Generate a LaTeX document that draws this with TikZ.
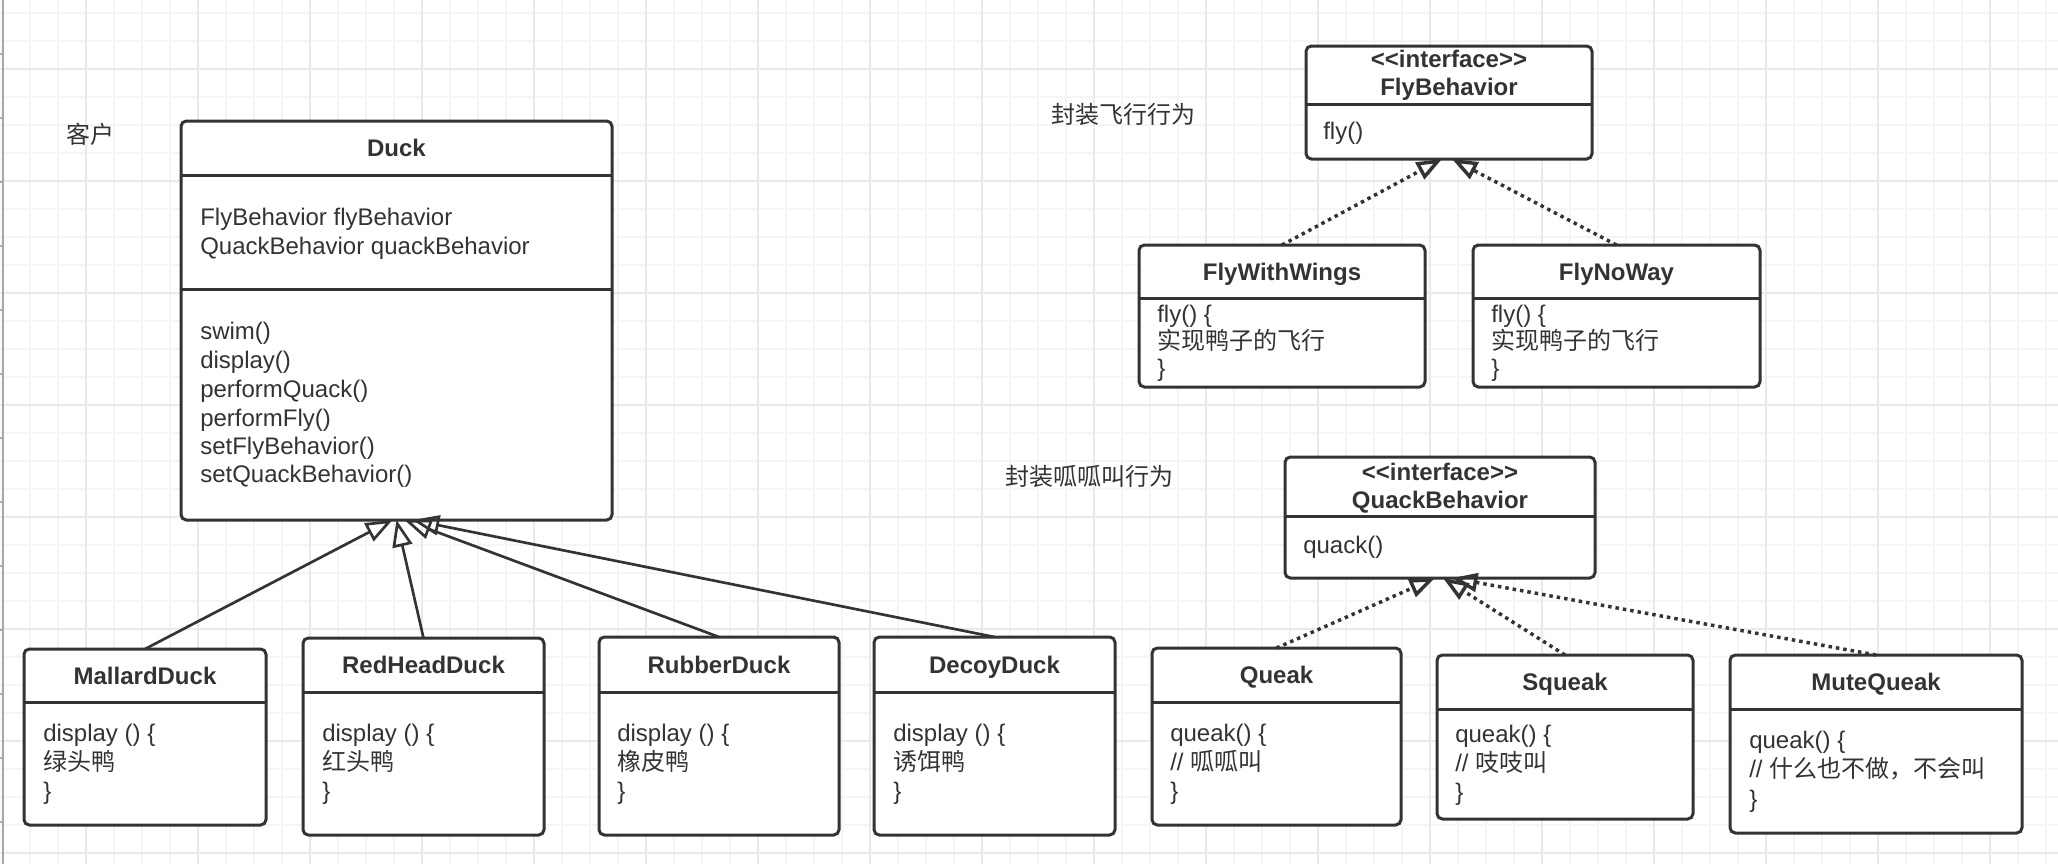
\documentclass[tikz,border=0pt]{standalone}
\usepackage{fontspec}
\setmainfont{Liberation Sans}
\newfontfamily\cjk{Noto Sans CJK SC}
\usetikzlibrary{arrows.meta,calc}
\definecolor{fg}{HTML}{333333}
\definecolor{gridminor}{HTML}{F5F5F5}
\definecolor{gridmajor}{HTML}{EAEAEA}
\definecolor{rulercol}{HTML}{A8A8A8}
\tikzset{
  box/.style={draw=fg, fill=white, line width=2.25pt, rounded corners=4pt, anchor=north west, inner sep=0pt, outer sep=0pt},
  divline/.style={draw=fg, line width=2.25pt},
  title/.style={font=\fontsize{18pt}{21.6pt}\selectfont\bfseries, text=fg, inner sep=0pt, text height=13pt, text depth=4pt},
  body/.style={font=\fontsize{18pt}{21.6pt}\selectfont, text=fg, anchor=west, inner sep=0pt, text height=13pt, text depth=4pt},
  inh/.style={draw=fg, line width=2pt, -{Triangle[open, length=20pt, width=15pt]}},
  real/.style={draw=fg, line width=2.6pt, dash pattern=on 2.6pt off 3pt, -{Triangle[open, length=19pt, width=14pt]}},
}
\newcommand\umlbox[6]{%
  \node[box, minimum width={(#4-#2)*0.75pt}, minimum height={(#5-#3)*0.75pt}] (#1) at (#2,#3) {};
  \draw[divline] (#1.west |- 0,#6) -- (#1.east |- 0,#6);
}
\begin{document}
\begin{tikzpicture}[x=0.75pt, y=-0.75pt]
\useasboundingbox (0,0) rectangle (2058,864);
\fill[white] (0,0) rectangle (2058,864);
% grid
\foreach \gx in {2,30,...,2058} \draw[gridminor, line width=0.9pt] (\gx,0) -- (\gx,864);
\foreach \gy in {13,41,...,864} \draw[gridminor, line width=0.9pt] (0,\gy) -- (2058,\gy);
\foreach \gx in {86,198,...,2058} \draw[gridmajor, line width=0.9pt] (\gx,0) -- (\gx,864);
\foreach \gy in {69,181,...,864} \draw[gridmajor, line width=0.9pt] (0,\gy) -- (2058,\gy);
% ruler
\draw[rulercol, line width=1.2pt] (3,0) -- (3,864);
\foreach \gy in {54,118,...,864} \draw[rulercol, line width=1pt] (0,\gy) -- (3,\gy);

% labels
\node[body] (lblclient) at (66,137) {\cjk 客户};
\node[body] (lblfly) at (1051,117) {\cjk 封装飞行行为};
\node[body] (lblquack) at (1005,479) {\cjk 封装呱呱叫行为};

% Duck
\umlbox{duck}{181}{121}{612}{520}{175}
\draw[divline] (duck.west |- 0,289) -- (duck.east |- 0,289);
\node[title] (duckT) at (duck.north |- 0,150) {Duck};
\node[body] (duckA1) at (200,219) {FlyBehavior flyBehavior};
\node[body] (duckA2) at (200,248) {QuackBehavior quackBehavior};
\node[body] (duckM1) at (200,333) {swim()};
\node[body] (duckM2) at (200,362) {display()};
\node[body] (duckM3) at (200,391) {performQuack()};
\node[body] (duckM4) at (200,420) {performFly()};
\node[body] (duckM5) at (200,448) {setFlyBehavior()};
\node[body] (duckM6) at (200,476) {setQuackBehavior()};

% FlyBehavior
\umlbox{flyb}{1306}{46}{1592}{159}{104}
\node[title] (flybS) at (flyb.north |- 0,61) {<\kern0pt<interface>\kern0pt>};
\node[title] (flybT) at (flyb.north |- 0,89) {FlyBehavior};
\node[body] (flybM) at (1323,133) {fly()};

% FlyWithWings
\umlbox{fww}{1139}{245}{1425}{387}{298}
\node[title] (fwwT) at (fww.north |- 0,274) {FlyWithWings};
\node[body] (fww1) at (1157,316) {fly() \{};
\node[body] (fww2) at (1157,343) {\cjk 实现鸭子的飞行};
\node[body] (fww3) at (1157,370) {\}};

% FlyNoWay
\umlbox{fnw}{1473}{245}{1760}{387}{298}
\node[title] (fnwT) at (fnw.north |- 0,274) {FlyNoWay};
\node[body] (fnw1) at (1491,316) {fly() \{};
\node[body] (fnw2) at (1491,343) {\cjk 实现鸭子的飞行};
\node[body] (fnw3) at (1491,370) {\}};

% QuackBehavior
\umlbox{qb}{1285}{457}{1595}{578}{516}
\node[title] (qbS) at (qb.north |- 0,474) {<\kern0pt<interface>\kern0pt>};
\node[title] (qbT) at (qb.north |- 0,502) {QuackBehavior};
\node[body] (qbM) at (1303,547) {quack()};

% Queak
\umlbox{queak}{1152}{648}{1401}{825}{702}
\node[title] (queakT) at (queak.north |- 0,677) {Queak};
\node[body] (queak1) at (1170,735) {queak() \{};
\node[body] (queak2) at (1170,764) {// {\cjk 呱呱叫}};
\node[body] (queak3) at (1170,793) {\}};

% Squeak
\umlbox{squeak}{1437}{655}{1693}{819}{709}
\node[title] (squeakT) at (squeak.north |- 0,684) {Squeak};
\node[body] (squeak1) at (1455,736) {queak() \{};
\node[body] (squeak2) at (1455,765) {// {\cjk 吱吱叫}};
\node[body] (squeak3) at (1455,794) {\}};

% MuteQueak
\umlbox{mute}{1730}{655}{2022}{833}{709}
\node[title] (muteT) at (mute.north |- 0,684) {MuteQueak};
\node[body] (mute1) at (1749,742) {queak() \{};
\node[body] (mute2) at (1749,771) {// {\cjk 什么也不做，不会叫}};
\node[body] (mute3) at (1749,801) {\}};

% MallardDuck
\umlbox{mallard}{24}{649}{266}{825}{702}
\node[title] (mallardT) at (mallard.north |- 0,678) {MallardDuck};
\node[body] (mallard1) at (43,735) {display () \{};
\node[body] (mallard2) at (43,764) {\cjk 绿头鸭};
\node[body] (mallard3) at (43,793) {\}};

% RedHeadDuck
\umlbox{redhead}{303}{638}{544}{835}{692}
\node[title] (redheadT) at (redhead.north |- 0,667) {RedHeadDuck};
\node[body] (redhead1) at (322,735) {display () \{};
\node[body] (redhead2) at (322,764) {\cjk 红头鸭};
\node[body] (redhead3) at (322,793) {\}};

% RubberDuck
\umlbox{rubber}{599}{637}{839}{835}{692}
\node[title] (rubberT) at (rubber.north |- 0,667) {RubberDuck};
\node[body] (rubber1) at (617,735) {display () \{};
\node[body] (rubber2) at (617,764) {\cjk 橡皮鸭};
\node[body] (rubber3) at (617,793) {\}};

% DecoyDuck
\umlbox{decoy}{874}{637}{1115}{835}{692}
\node[title] (decoyT) at (decoy.north |- 0,667) {DecoyDuck};
\node[body] (decoy1) at (893,735) {display () \{};
\node[body] (decoy2) at (893,764) {\cjk 诱饵鸭};
\node[body] (decoy3) at (893,793) {\}};

% inheritance
\draw[inh] (mallard.north) -- ($(duck.south)+(-4,0)$);
\draw[inh] (redhead.north) -- ($(duck.south)+(0,0)$);
\draw[inh] (rubber.north) -- ($(duck.south)+(8,0)$);
\draw[inh] (decoy.north) -- ($(duck.south)+(16,0)$);

% realization
\draw[real] (fww.north) -- ($(flyb.south)+(-7,0)$);
\draw[real] (fnw.north) -- ($(flyb.south)+(3,0)$);
\draw[real] (queak.north) -- ($(qb.south)+(-5,0)$);
\draw[real] (squeak.north) -- ($(qb.south)+(3,0)$);
\draw[real] (mute.north) -- ($(qb.south)+(12,0)$);
\end{tikzpicture}
\end{document}
